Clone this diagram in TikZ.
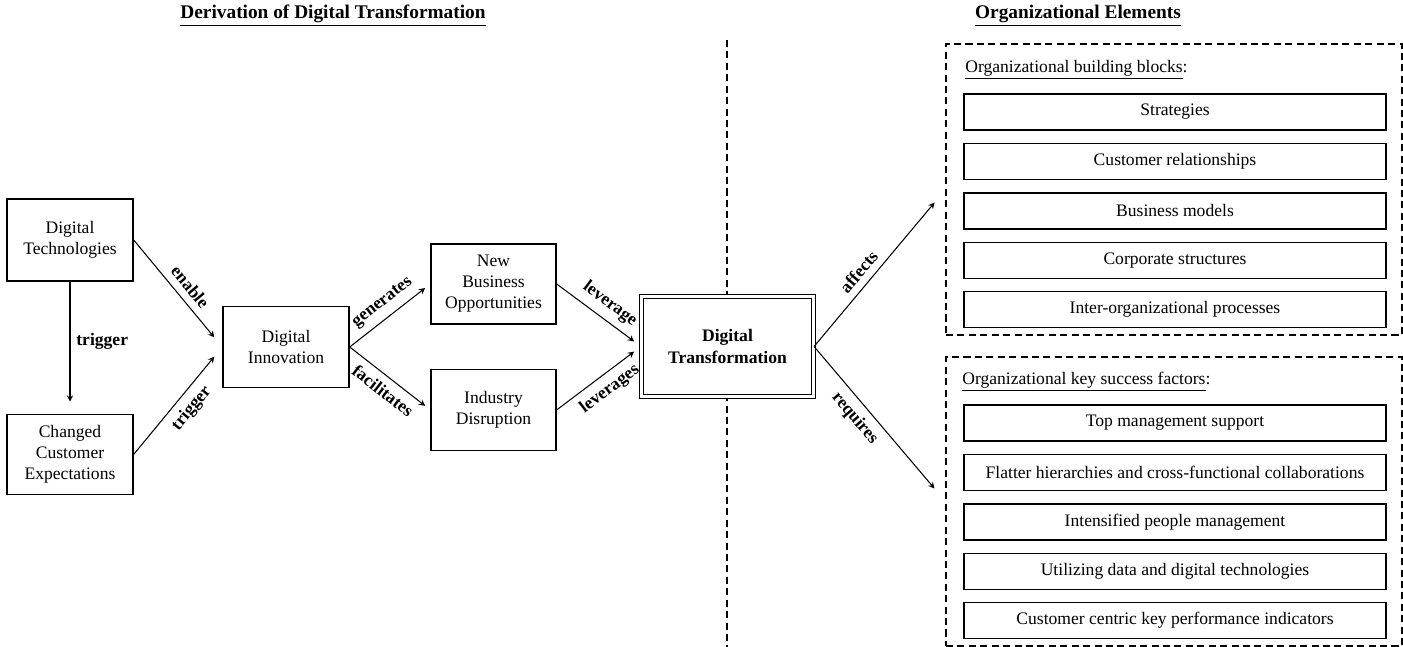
\documentclass[tikz,border=0pt]{standalone}
\usepackage{fontspec}
\setmainfont{Liberation Serif}
\usetikzlibrary{positioning,shapes,arrows,calc}

\begin{document}
\begin{tikzpicture}[
    block/.style={rectangle, draw=black, thick, fill=white, minimum width=2.52cm, minimum height=1.62cm, align=center},
    core/.style={rectangle, draw=black, double, double distance=1.2pt, line width=0.6pt, fill=white, minimum width=3.44cm, minimum height=2.0cm, align=center, font=\bfseries},
    group/.style={rectangle, draw=black, semithick, dash pattern=on 4pt off 2.5pt, minimum width=9.12cm, inner sep=0pt},
    item/.style={rectangle, draw=black, thick, minimum width=8.44cm, minimum height=0.72cm, inner sep=0pt},
    heading/.style={font=\fontsize{11}{13}\selectfont\bfseries},
    arrow/.style={->,>=stealth,semithick},
    verb/.style={font=\bfseries, sloped, inner sep=4pt}
]
    \useasboundingbox (0,0) rectangle (28.06,12.94);

    % titles
    \node[heading] (deriv) at (6.66,12.62) {\underline{Derivation of Digital Transformation}};
    \node[heading] (orgel) at (21.56,12.62) {\underline{Organizational\ Elements}};

    % separator
    \coordinate (septop) at (14.54,12.14);
    \coordinate (sepbot) at (14.54,0);
    \draw[semithick, dash pattern=on 4pt off 2.5pt] (septop) -- (sepbot);

    % derivation
    \node[block, minimum height=1.64cm] (dtech) at (1.4,8.14) {Digital\\Technologies};
    \node[block, minimum height=1.6cm, below=2.64cm of dtech] (cce) {Changed\\Customer\\Expectations};
    \node[block] (dinno) at (5.72,6.0) {Digital\\Innovation};
    \node[block, minimum width=2.5cm, minimum height=1.6cm] (nbo) at (9.87,7.26) {New\\Business\\Opportunities};
    \node[block, minimum width=2.5cm, below=0.88cm of nbo] (indd) {Industry\\Disruption};
    \node[core] (dtrans) at (14.55,6.01) {Digital\\Transformation};

    \draw[arrow, shorten >=0.24cm] (dtech) -- node[right, font=\bfseries, pos=0.45] {trigger} (cce);
    \draw[arrow, shorten >=0.25cm] (dtech.east) -- node[verb, above, pos=0.52] {enable} (dinno.west);
    \draw[arrow, shorten >=0.25cm] (cce.east) -- node[verb, below, pos=0.52] {trigger} (dinno.west);
    \draw[arrow, shorten >=0.13cm] (dinno.east) -- node[verb, above, pos=0.52] {generates} (nbo.west);
    \draw[arrow, shorten >=0.13cm] (dinno.east) -- node[verb, below, pos=0.52] {facilitates} (indd.west);
    \draw[arrow, shorten >=0.17cm] (nbo.east) -- node[verb, above, pos=0.52] {leverage} (dtrans.west);
    \draw[arrow, shorten >=0.17cm] (indd.east) -- node[verb, below, pos=0.52] {leverages} (dtrans.west);

    % organizational elements
    \node[group, minimum height=5.82cm] (blocks) at (23.48,9.15) {};
    \node[group, minimum height=5.78cm] (factors) at (23.48,2.91) {};

    \draw[arrow, shorten >=0.34cm] (dtrans.east) -- node[verb, above, pos=0.42] {affects} (blocks.west);
    \draw[arrow, shorten >=0.34cm] (dtrans.east) -- node[verb, below, pos=0.4] {requires} (factors.west);

    \node[anchor=west, inner sep=0pt] (bbhead) at (19.3,11.54) {\underline{Organizational building blocks}:};
    \node[item] (bb1) at (23.5,10.70) {Strategies};
    \node[item, below=0.24cm of bb1] (bb2) {Customer relationships};
    \node[item, below=0.24cm of bb2] (bb3) {Business models};
    \node[item, below=0.24cm of bb3] (bb4) {Corporate structures};
    \node[item, below=0.24cm of bb4] (bb5) {Inter-organizational processes};

    \node[anchor=west, inner sep=0pt] (kshead) at (19.24,5.30) {\underline{Organizational key success factors}:};
    \node[item] (ks1) at (23.5,4.48) {Top management support};
    \node[item, below=0.24cm of ks1] (ks2) {Flatter hierarchies and cross-functional collaborations};
    \node[item, below=0.24cm of ks2] (ks3) {Intensified people management};
    \node[item, below=0.24cm of ks3] (ks4) {Utilizing data and digital technologies};
    \node[item, below=0.24cm of ks4] (ks5) {Customer centric key performance indicators};
\end{tikzpicture}
\end{document}
